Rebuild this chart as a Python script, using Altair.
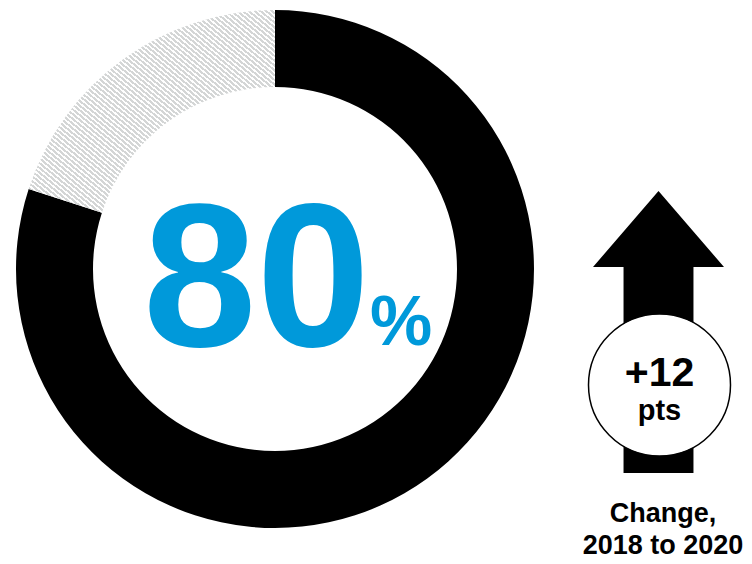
import altair as alt
import pandas as pd

# ---- data ----
parts = ["Agree", "Other"]
shares = [80, 20]
headline_value = [80]
unit_symbol = ["%"]
change_value = [12]
change_unit = ["pts"]
caption_lines = ["Change,", "2018 to 2020"]

# ---- layout / style ----
W, H = 736, 556
CX, CY = 267, 261
R_OUT, R_IN = 259, 182
FONT = "Liberation Sans"
BLUE = "#0099DA"

ARROW_PATH = ("M0,-1 L0.4645,-0.461 L0.248,-0.461 L0.248,1 "
              "L-0.248,1 L-0.248,-0.461 L-0.4645,-0.461 Z")

# diagonal hatch built as a striped linear gradient
N = 85
GRAY = "#d4d6d6"
stops = []
for i in range(N):
    a, b, c = i / N, (i + 0.55) / N, (i + 1) / N
    stops += [
        {"offset": round(a, 5), "color": GRAY},
        {"offset": round(b, 5), "color": GRAY},
        {"offset": round(b, 5), "color": "#ffffff"},
        {"offset": round(c, 5), "color": "#ffffff"},
    ]
hatch = {"gradient": "linear", "x1": 0, "y1": 1, "x2": 1, "y2": 0, "stops": stops}

donut_df = pd.DataFrame({"part": parts, "share": shares, "order": list(range(len(parts)))})

donut = alt.Chart(donut_df).mark_arc(radius=R_OUT, radius2=R_IN, strokeWidth=0).encode(
    theta=alt.Theta("share:Q", stack=True),
    order=alt.Order("order:Q"),
    fill=alt.condition(alt.datum.part == "Agree", alt.value("#000000"), alt.value(hatch)),
    x=alt.value(CX),
    y=alt.value(CY),
)

big = alt.Chart(pd.DataFrame({"v": headline_value})).mark_text(
    font=FONT, fontSize=204, fontWeight="bold", color=BLUE, align="right", baseline="alphabetic"
).encode(text=alt.Text("v:Q", format="d"), x=alt.value(362), y=alt.value(338))

pct = alt.Chart(pd.DataFrame({"u": unit_symbol})).mark_text(
    font=FONT, fontSize=70, fontWeight="bold", color=BLUE, align="left", baseline="alphabetic"
).encode(text="u:N", x=alt.value(362), y=alt.value(337))

change_df = pd.DataFrame({"change": change_value, "unit": change_unit})

arrow = alt.Chart(change_df).mark_point(
    shape=ARROW_PATH, size=282 ** 2, filled=True, fill="#000000", strokeWidth=0, opacity=1
).encode(x=alt.value(650.5), y=alt.value(324))

badge = alt.Chart(change_df).mark_point(
    shape="circle", size=142 ** 2, filled=True, fill="#ffffff", stroke="#000000",
    strokeWidth=1.5, opacity=1
).encode(x=alt.value(651.5), y=alt.value(377))

change_txt = alt.Chart(change_df).mark_text(
    font=FONT, fontSize=41, fontWeight="bold", color="#000000", align="center", baseline="alphabetic"
).encode(text=alt.Text("change:Q", format="+d"), x=alt.value(651.5), y=alt.value(378))

unit_txt = alt.Chart(change_df).mark_text(
    font=FONT, fontSize=29, fontWeight="bold", color="#000000", align="center", baseline="alphabetic"
).encode(text="unit:N", x=alt.value(651.5), y=alt.value(412))

cap_df = pd.DataFrame({"line": list(range(len(caption_lines))), "c": caption_lines})
caption = alt.Chart(cap_df).mark_text(
    font=FONT, fontSize=27, fontWeight="bold", color="#000000", align="center",
    baseline="alphabetic"
).encode(
    text="c:N",
    x=alt.value(655),
    y=alt.Y("line:O", scale=alt.Scale(type="point", range=[514, 546], padding=0), axis=None),
)

chart = alt.layer(donut, big, pct, arrow, badge, change_txt, unit_txt, caption).properties(
    width=W, height=H, padding=0, autosize="none", background="#ffffff"
).configure_view(strokeWidth=0)

chart.save("out.html", embed_options={"renderer": "svg", "actions": False})
